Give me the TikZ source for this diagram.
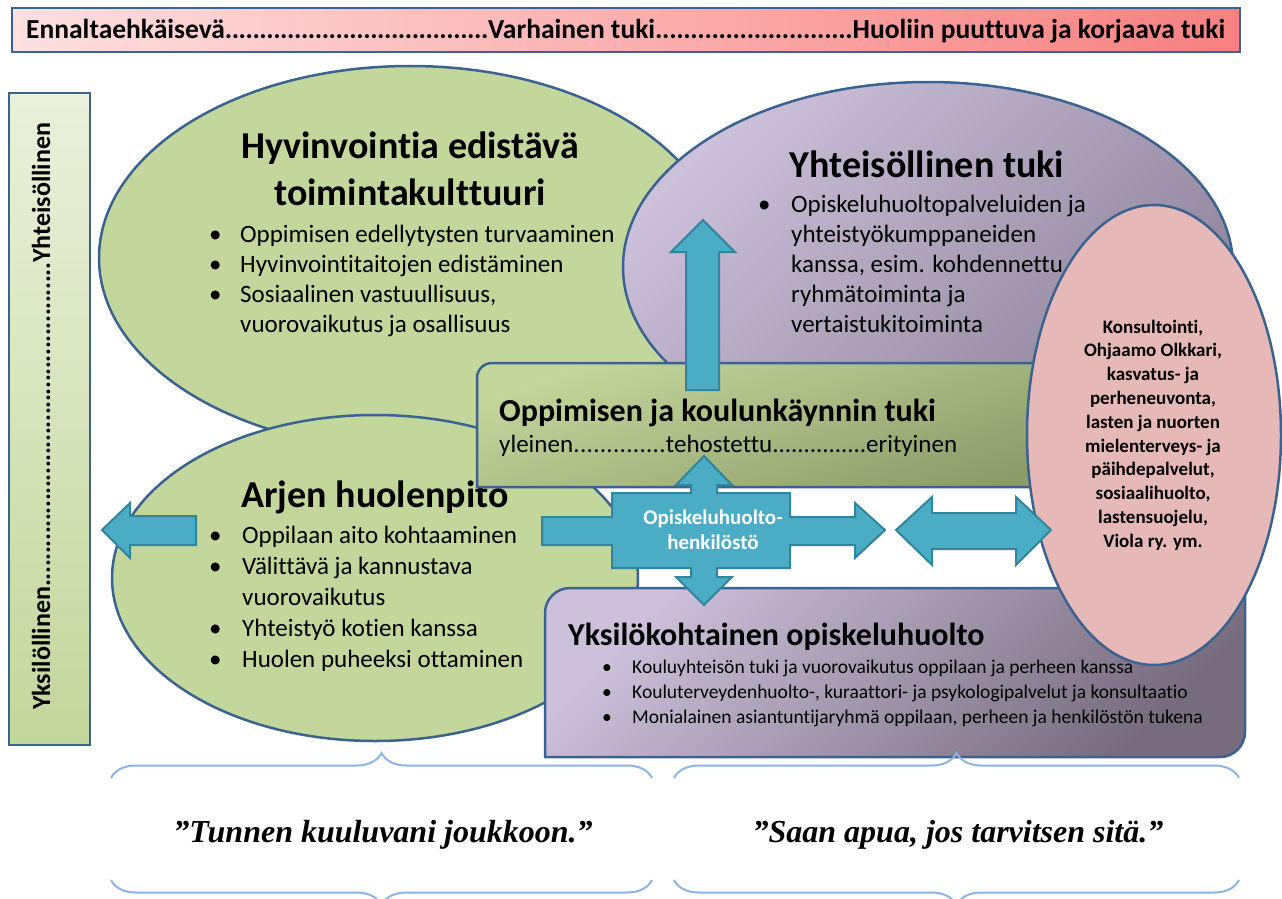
\documentclass[tikz,border=0pt]{standalone}
\usepackage{fontspec}
\setmainfont{Carlito}[Ligatures=NoCommon]
\newfontfamily\quotefont{Liberation Serif}
\usetikzlibrary{shapes.geometric, decorations.pathreplacing}

\definecolor{edgeblue}{HTML}{3A6391}
\definecolor{ovalgreen}{HTML}{C3D69B}
\definecolor{boxgreenlow}{HTML}{8C9B69}
\definecolor{lilac}{HTML}{CCC0DA}
\definecolor{lilacdark}{HTML}{8E8399}
\definecolor{lilacdeep}{HTML}{776B7E}
\definecolor{arrowblue}{HTML}{4BACC6}
\definecolor{arrowedge}{HTML}{31859C}
\definecolor{bracecolor}{HTML}{8EB4E3}
\definecolor{servicepink}{HTML}{E6B9B8}
\definecolor{barpink}{HTML}{FDE0E0}
\definecolor{barred}{HTML}{F88080}

\newcommand\dotsfill{\xleaders\hbox to 0.25em{\hss.\hss}\hfill}
\newcommand\bul[1]{\makebox[#1pt][l]{•}}
\newcommand\fs[2]{\fontsize{#1}{#2}\selectfont}

\begin{document}
\begin{tikzpicture}[
    x=1pt, y=-1pt,
    edge/.style={draw=edgeblue, line width=2.5pt},
    greenoval/.style={edge, ellipse, fill=ovalgreen, inner sep=0},
    titletext/.style={anchor=base, inner sep=0, font=\bfseries\fs{38}{46}},
    headtext/.style={anchor=base west, inner sep=0, font=\bfseries\fs{32}{39}},
    listtext/.style={anchor=base west, inner sep=0},
    blockarrow/.style={fill=arrowblue, draw=arrowedge, line width=2pt},
    bracket/.style={draw=bracecolor, line width=2pt, decorate, decoration={brace, amplitude=25pt}},
    quotetext/.style={anchor=base, inner sep=0, font=\quotefont\bfseries\itshape\fs{32}{38}}
]
    \useasboundingbox (0,0) rectangle (1282,899);
    \fill[white] (0,0) rectangle (1282,899);

    \path[edge, left color=barpink, right color=barred] (12,8) rectangle (1240,52);
    \node[listtext, font=\bfseries\fs{27.5}{33}] (levels) at (26,39)
        {\hbox to 1199pt{\hbox to 462pt{Ennaltaehkäisevä\dotsfill}Varhainen tuki\dotsfill Huoliin puuttuva ja korjaava tuki}};

    \path[edge, top color=ovalgreen!35, bottom color=ovalgreen] (9,93) rectangle (90,745);
    \node[listtext, rotate=90, font=\bfseries\fs{26}{31}] (scale) at (50,710)
        {\hbox{Yksilöllinen\hbox to 324pt{\dotsfill}Yhteisöllinen}};

    \node[greenoval, minimum width=622pt, minimum height=384pt] (wellbeing) at (410,258) {};
    \node[titletext] (wellbeingtitle) at (410,158) {Hyvinvointia edistävä};
    \node[titletext] (wellbeingtitle2) at (410,205) {toimintakulttuuri};
    \node[listtext, font=\fs{25}{30.3}] (wellbeinglist) at (209,242) {\begin{tabular}[t]{@{}l@{}}
        \bul{31}Oppimisen edellytysten turvaaminen\\
        \bul{31}Hyvinvointitaitojen edistäminen\\
        \bul{31}Sosiaalinen vastuullisuus,\\
        \hspace*{31pt}vuorovaikutus ja osallisuus
    \end{tabular}};

    \node[edge, ellipse, inner sep=0, minimum width=610pt, minimum height=370pt,
        top color=lilac, bottom color=lilacdark, shading angle=45] (community) at (928,267) {};
    \node[titletext] (communitytitle) at (927,177) {Yhteisöllinen tuki};
    \node[listtext, font=\fs{25}{30}] (communitylist) at (758,212) {\begin{tabular}[t]{@{}l@{}}
        \bul{33}Opiskeluhuoltopalveluiden ja\\
        \hspace*{33pt}yhteistyökumppaneiden\\
        \hspace*{33pt}kanssa, esim. kohdennettu\\
        \hspace*{33pt}ryhmätoiminta ja\\
        \hspace*{33pt}vertaistukitoiminta
    \end{tabular}};

    \node[greenoval, minimum width=526pt, minimum height=326pt] (everyday) at (375,578) {};
    \node[titletext] (everydaytitle) at (375,507) {Arjen huolenpito};
    \node[listtext, font=\fs{25}{31}] (everydaylist) at (209,543) {\begin{tabular}[t]{@{}l@{}}
        \bul{33}Oppilaan aito kohtaaminen\\
        \bul{33}Välittävä ja kannustava\\
        \hspace*{33pt}vuorovaikutus\\
        \bul{33}Yhteistyö kotien kanssa\\
        \bul{33}Huolen puheeksi ottaminen
    \end{tabular}};

    \path[edge, top color=ovalgreen, bottom color=boxgreenlow, shading angle=20]
        (477,487) -- (477,378) arc[start angle=180, end angle=270, radius=15] -- (1090,363) -- (1090,487) -- cycle;
    \node[headtext] (learning) at (499,421) {Oppimisen ja koulunkäynnin tuki};
    \node[listtext, font=\fs{25}{30}] (learninglevels) at (499,452)
        {\hbox{yleinen\hbox to 93pt{\dotsfill}tehostettu\hbox to 94pt{\dotsfill}erityinen}};

    \path[edge, top color=lilac, bottom color=lilacdeep, shading angle=45]
        (545,757) -- (545,613) arc[start angle=180, end angle=270, radius=25] -- (1245,588)
        -- (1245,732) arc[start angle=0, end angle=90, radius=25] -- cycle;
    \node[headtext] (individual) at (568,645) {Yksilökohtainen opiskeluhuolto};
    \node[listtext, font=\fs{19.5}{25}] (individuallist) at (602,673) {\begin{tabular}[t]{@{}l@{}}
        \bul{30}Kouluyhteisön tuki ja vuorovaikutus oppilaan ja perheen kanssa\\
        \bul{30}Kouluterveydenhuolto-, kuraattori- ja psykologipalvelut ja konsultaatio\\
        \bul{30}Monialainen asiantuntijaryhmä oppilaan, perheen ja henkilöstön tukena
    \end{tabular}};

    \node[edge, ellipse, fill=servicepink, inner sep=0, minimum width=254pt, minimum height=460pt] (services) at (1154,435) {};
    \node[align=center, inner sep=0, font=\bfseries\fs{19}{23.8}] (servicestext) at (1153,435)
        {Konsultointi,\\Ohjaamo Olkkari,\\kasvatus- ja\\perheneuvonta,\\lasten ja nuorten\\mielenterveys- ja\\päihdepalvelut,\\sosiaalihuolto,\\lastensuojelu,\\Viola ry. ym.};

    \filldraw[blockarrow] (686,390) -- (686,252) -- (671,252) -- (703,220) -- (735,252) -- (719,252) -- (719,390) -- cycle;
    \filldraw[blockarrow] (196,516) -- (130,516) -- (130,503) -- (102,530) -- (130,558) -- (130,545) -- (196,545) -- cycle;
    \filldraw[blockarrow] (542,517) -- (612,517) -- (612,493) -- (691,493) -- (691,485) -- (676,485) -- (704,456)
        -- (732,485) -- (717,485) -- (717,493) -- (790,493) -- (790,517) -- (855,517) -- (855,503) -- (885,530)
        -- (855,558) -- (855,545) -- (790,545) -- (790,568) -- (717,568) -- (717,577) -- (732,577) -- (704,605)
        -- (676,577) -- (691,577) -- (691,568) -- (612,568) -- (612,545) -- (542,545) -- cycle;
    \node[align=center, inner sep=0, text=white, font=\bfseries\fs{21}{25}] (staff) at (713,530) {Opiskeluhuolto-\\henkilöstö};
    \filldraw[blockarrow] (896,530) -- (932,497) -- (932,513) -- (1016,513) -- (1016,497) -- (1051,530)
        -- (1016,565) -- (1016,549) -- (932,549) -- (932,565) -- cycle;

    \draw[bracket] (111,778) -- (652,778);
    \draw[bracket] (674,778) -- (1239,778);
    \draw[bracket] (652,880) -- (111,880);
    \draw[bracket] (1239,880) -- (674,880);

    \node[quotetext] (belong) at (383,842) {”Tunnen kuuluvani joukkoon.”};
    \node[quotetext] (gethelp) at (958,842) {”Saan apua, jos tarvitsen sitä.”};

\end{tikzpicture}
\end{document}
